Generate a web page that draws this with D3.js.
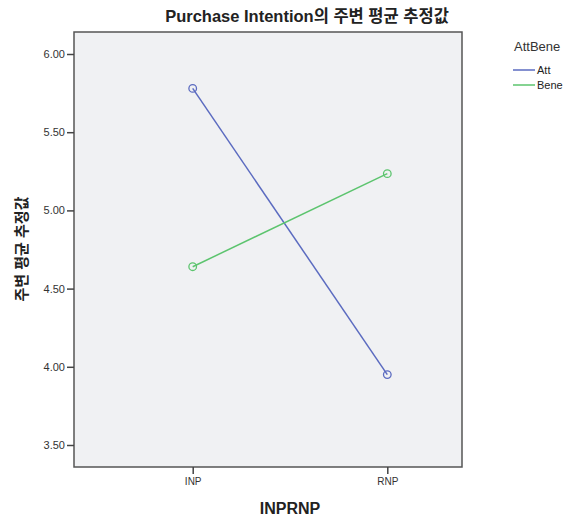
<!DOCTYPE html>
<html><head><meta charset="utf-8">
<script src="https://cdn.jsdelivr.net/npm/d3@7"></script>
<style>body{margin:0;background:#fff;} text{font-family:"Liberation Sans","Noto Sans CJK KR",Arial,sans-serif;}</style>
</head><body><svg id="c" width="573" height="518"></svg>
<script>
const categories = ["INP", "RNP"];
const seriesNames = ["Att", "Bene"];
const attValues = [5.78, 3.95];
const beneValues = [4.64, 5.235];
const yTicks = [3.5, 4.0, 4.5, 5.0, 5.5, 6.0];
const colors = ["#5b6bc0", "#5cc46e"];

const svg = d3.select("#c");
const L = 74, R = 462, T = 32, B = 467;
const y = d3.scaleLinear().domain([3.5, 6.0]).range([445, 54]);
const x = d3.scalePoint().domain(categories).range([192.7, 387.3]);

svg.append("rect").attr("x", L).attr("y", T).attr("width", R - L).attr("height", B - T)
  .attr("fill", "#f0f1f3").attr("stroke", "#555").attr("stroke-width", 1.5);

const yAxis = svg.append("g").attr("transform", `translate(${L},0)`)
  .call(d3.axisLeft(y).tickValues(yTicks).tickFormat(d3.format(".2f")).tickSize(7).tickPadding(2));
yAxis.select(".domain").remove();
yAxis.selectAll("line").attr("stroke", "#444").attr("stroke-width", 1.5);
yAxis.selectAll("text").attr("font-size", 11).attr("fill", "#333").attr("font-family", "Liberation Sans, Arial, sans-serif");

const xAxis = svg.append("g").attr("transform", `translate(0,${B})`)
  .call(d3.axisBottom(x).tickSize(7).tickPadding(4));
xAxis.select(".domain").remove();
xAxis.selectAll("line").attr("stroke", "#444").attr("stroke-width", 1.5);
xAxis.selectAll("text").attr("font-size", 10).attr("fill", "#333").attr("font-family", "Liberation Sans, Arial, sans-serif");

const series = [attValues, beneValues];
const line = d3.line().x((d, i) => x(categories[i])).y(d => y(d));
series.forEach((vals, s) => {
  svg.append("path").datum(vals).attr("d", line).attr("fill", "none")
    .attr("stroke", colors[s]).attr("stroke-width", 1.5);
  svg.selectAll(null).data(vals).enter().append("circle")
    .attr("cx", (d, i) => x(categories[i])).attr("cy", d => y(d)).attr("r", 3.8)
    .attr("fill", "none").attr("stroke", colors[s]).attr("stroke-width", 1.3);
});

svg.append("text").attr("x", 307).attr("y", 22).attr("text-anchor", "middle")
  .attr("font-size", 16.5).attr("font-weight", "bold").attr("fill", "#222")
  .text("Purchase Intention의 주변 평균 추정값");

svg.append("text").attr("transform", "translate(27,249) rotate(-90)").attr("text-anchor", "middle")
  .attr("font-size", 15).attr("font-weight", "bold").attr("fill", "#222")
  .text("주변 평균 추정값");

svg.append("text").attr("x", 290).attr("y", 514).attr("text-anchor", "middle")
  .attr("font-size", 16).attr("font-weight", "bold").attr("fill", "#222")
  .text("INPRNP");

svg.append("text").attr("x", 514).attr("y", 51).attr("font-size", 13).attr("fill", "#333").text("AttBene");
seriesNames.forEach((n, i) => {
  const yy = 70 + i * 15;
  svg.append("line").attr("x1", 513).attr("x2", 535).attr("y1", yy).attr("y2", yy)
    .attr("stroke", colors[i]).attr("stroke-width", 1.5);
  svg.append("text").attr("x", 537).attr("y", yy + 4).attr("font-size", 11).attr("fill", "#222").text(n);
});
</script></body></html>
